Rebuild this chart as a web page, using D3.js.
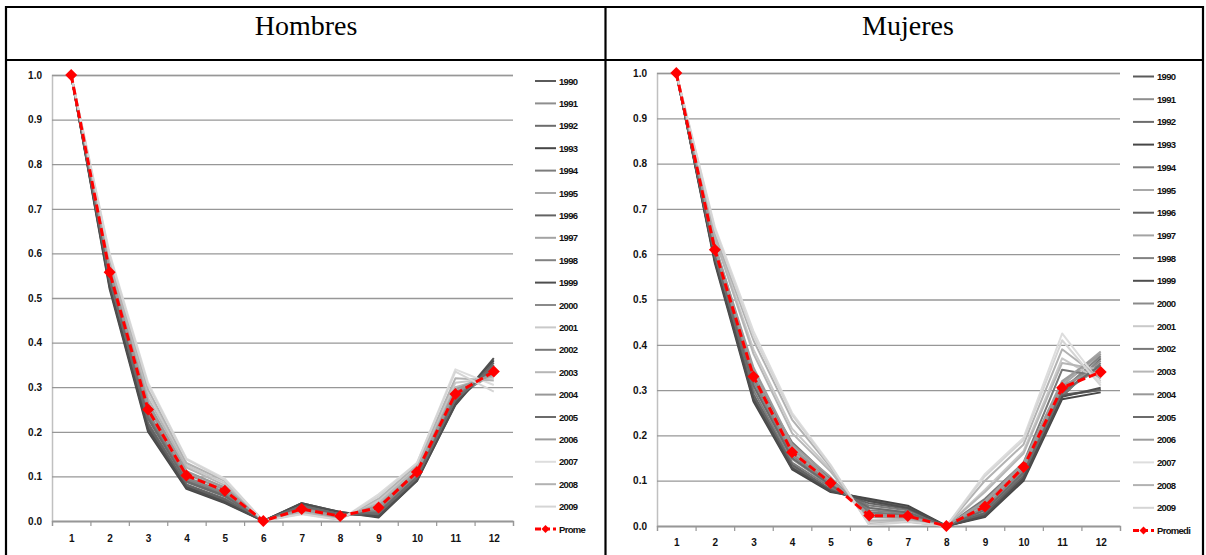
<!DOCTYPE html>
<html>
<head>
<meta charset="utf-8">
<style>
body { margin: 0; background: #fff; }
.tick text { font-family: "Liberation Sans", Arial, sans-serif; font-weight: bold; }
</style>
</head>
<body>
<svg id="chart" width="1206" height="555"></svg>
<script src="https://d3js.org/d3.v7.min.js"></script>
<script>

// years and edad groups (1..12)
const years = ["1990","1991","1992","1993","1994","1995","1996","1997","1998","1999",
               "2000","2001","2002","2003","2004","2005","2006","2007","2008","2009"];
const groups = [1,2,3,4,5,6,7,8,9,10,11,12];
const yTicks = [0,0.1,0.2,0.3,0.4,0.5,0.6,0.7,0.8,0.9,1.0];

// legend colours for each year (grays as in the excel chart)
const yearColors = ["#5a5a5a","#8e8e8e","#6c6c6c","#464646","#7c7c7c","#a8a8a8","#636363","#a3a3a3",
                    "#828282","#4e4e4e","#8a8a8a","#c9c9c9","#787878","#b6b6b6","#989898","#6b6b6b",
                    "#9c9c9c","#dddddd","#b2b2b2","#d5d5d5"];

// Hombres
const hombres = [
  [1,0.53,0.21,0.078,0.045,0,0.035,0.015,0.012,0.095,0.27,0.34],
  [1,0.55,0.24,0.092,0.06,0,0.03,0.012,0.02,0.10,0.28,0.33],
  [1,0.535,0.22,0.082,0.05,0,0.038,0.018,0.015,0.095,0.265,0.35],
  [1,0.52,0.20,0.072,0.04,0,0.04,0.02,0.008,0.09,0.26,0.36],
  [1,0.545,0.23,0.088,0.055,0,0.032,0.014,0.018,0.10,0.275,0.345],
  [1,0.565,0.26,0.105,0.07,0,0.028,0.01,0.025,0.105,0.285,0.33],
  [1,0.53,0.215,0.08,0.048,0,0.036,0.016,0.012,0.092,0.268,0.355],
  [1,0.57,0.265,0.11,0.075,0,0.025,0.008,0.03,0.11,0.29,0.325],
  [1,0.55,0.24,0.095,0.062,0,0.03,0.012,0.022,0.10,0.28,0.34],
  [1,0.525,0.205,0.075,0.042,0,0.04,0.02,0.01,0.09,0.262,0.365],
  [1,0.555,0.245,0.098,0.065,0,0.028,0.012,0.025,0.105,0.285,0.335],
  [1,0.58,0.285,0.125,0.085,0,0.02,0.005,0.045,0.12,0.31,0.32],
  [1,0.545,0.235,0.09,0.058,0,0.033,0.015,0.02,0.098,0.278,0.34],
  [1,0.575,0.275,0.12,0.08,0,0.022,0.006,0.04,0.118,0.30,0.325],
  [1,0.56,0.255,0.105,0.07,0,0.027,0.01,0.032,0.11,0.29,0.33],
  [1,0.54,0.23,0.088,0.056,0,0.034,0.015,0.018,0.098,0.272,0.345],
  [1,0.565,0.265,0.112,0.075,0,0.025,0.008,0.035,0.112,0.295,0.33],
  [1,0.60,0.31,0.14,0.095,0,0.015,0.002,0.06,0.13,0.34,0.305],
  [1,0.585,0.295,0.13,0.09,0,0.018,0.004,0.05,0.125,0.32,0.315],
  [1,0.595,0.305,0.138,0.092,0,0.016,0.003,0.055,0.13,0.335,0.29]
];
const hombresProm = [1.0,0.558,0.25,0.102,0.068,0.0,0.027,0.011,0.03,0.11,0.285,0.335];

// Mujeres
const mujeres = [
  [1,0.59,0.29,0.135,0.08,0.055,0.04,0,0.025,0.11,0.29,0.30],
  [1,0.60,0.31,0.148,0.088,0.04,0.03,0,0.035,0.12,0.295,0.35],
  [1,0.585,0.285,0.13,0.078,0.058,0.042,0,0.022,0.105,0.285,0.37],
  [1,0.58,0.275,0.125,0.075,0.06,0.045,0,0.02,0.10,0.28,0.295],
  [1,0.595,0.30,0.14,0.085,0.045,0.035,0,0.03,0.115,0.29,0.36],
  [1,0.615,0.335,0.165,0.098,0.025,0.022,0,0.045,0.13,0.31,0.38],
  [1,0.59,0.29,0.135,0.08,0.05,0.038,0,0.028,0.11,0.288,0.30],
  [1,0.62,0.345,0.175,0.102,0.02,0.018,0,0.05,0.135,0.315,0.385],
  [1,0.605,0.32,0.155,0.092,0.035,0.028,0,0.04,0.125,0.30,0.375],
  [1,0.585,0.28,0.128,0.077,0.055,0.04,0,0.022,0.105,0.285,0.305],
  [1,0.605,0.325,0.16,0.095,0.03,0.025,0,0.04,0.125,0.30,0.365],
  [1,0.64,0.39,0.215,0.125,0.01,0.012,0,0.08,0.165,0.37,0.32],
  [1,0.60,0.33,0.185,0.105,0.03,0.025,0,0.06,0.14,0.345,0.33],
  [1,0.635,0.38,0.205,0.12,0.012,0.014,0,0.075,0.16,0.36,0.345],
  [1,0.61,0.335,0.17,0.1,0.025,0.02,0,0.05,0.13,0.31,0.35],
  [1,0.595,0.31,0.15,0.09,0.04,0.03,0,0.035,0.118,0.295,0.355],
  [1,0.62,0.35,0.18,0.108,0.02,0.018,0,0.055,0.14,0.32,0.38],
  [1,0.66,0.43,0.25,0.135,0.002,0.008,0,0.115,0.195,0.425,0.315],
  [1,0.645,0.41,0.235,0.13,0.005,0.01,0,0.10,0.18,0.39,0.325],
  [1,0.655,0.42,0.245,0.133,0.003,0.01,0,0.11,0.19,0.41,0.31]
];
const mujeresProm = [1.0,0.61,0.33,0.163,0.095,0.023,0.022,0.0,0.043,0.13,0.305,0.34];

const svg = d3.select("#chart");

// table frame
const frame = svg.append("g").attr("stroke", "#000").attr("stroke-width", 2.2);
frame.append("line").attr("x1", 5).attr("x2", 1204).attr("y1", 7).attr("y2", 7);
frame.append("line").attr("x1", 5).attr("x2", 1204).attr("y1", 60).attr("y2", 60);
frame.append("line").attr("x1", 6).attr("x2", 6).attr("y1", 6).attr("y2", 560);
frame.append("line").attr("x1", 605.5).attr("x2", 605.5).attr("y1", 6).attr("y2", 560);
frame.append("line").attr("x1", 1203).attr("x2", 1203).attr("y1", 6).attr("y2", 560);

svg.append("text").attr("x", 306).attr("y", 35).attr("text-anchor", "middle")
   .style("font-family", "'Liberation Serif', 'Times New Roman', serif").style("font-size", "28px")
   .text("Hombres");
svg.append("text").attr("x", 908).attr("y", 35).attr("text-anchor", "middle")
   .style("font-family", "'Liberation Serif', 'Times New Roman', serif").style("font-size", "28px")
   .text("Mujeres");

function drawPanel(p) {
  let g = svg.append("g");
  let x = d3.scaleLinear().domain([0.5, 12.5]).range([p.left, p.right]);
  let y = d3.scaleLinear().domain([0, 1]).range([p.bottom, p.top]);

  // gridlines + y labels
  g.append("g")
    .attr("transform", "translate(" + p.left + ",0)")
    .call(d3.axisLeft(y).tickValues(yTicks).tickFormat(d3.format(".1f"))
          .tickSize(-(p.right - p.left)).tickPadding(10))
    .call(a => a.select(".domain").attr("stroke", "#c0c0c0").attr("stroke-width", 1.5))
    .call(a => a.selectAll(".tick line").attr("stroke", "#979797").attr("stroke-width", 1.3))
    .call(a => a.selectAll(".tick text").style("font-size", "10px").attr("fill", "#111"));

  // x axis: boundary ticks
  g.append("g")
    .attr("transform", "translate(0," + p.bottom + ")")
    .call(d3.axisBottom(x).tickValues(d3.range(0.5, 13, 1)).tickSize(5).tickFormat(""))
    .call(a => a.select(".domain").attr("stroke", "#979797").attr("stroke-width", 1.3))
    .call(a => a.selectAll(".tick line").attr("stroke", "#979797").attr("stroke-width", 1.2));
  // x labels
  g.append("g")
    .attr("transform", "translate(0," + p.bottom + ")")
    .call(d3.axisBottom(x).tickValues(groups).tickSize(0).tickPadding(p.xPad).tickFormat(d3.format("d")))
    .call(a => a.select(".domain").remove())
    .call(a => a.selectAll(".tick text").style("font-size", "10px").attr("fill", "#111"));

  let line = d3.line().x((d, i) => x(groups[i])).y(d => y(d));

  g.selectAll("path.year")
    .data(p.series)
    .join("path")
    .attr("class", "year")
    .attr("d", line)
    .attr("fill", "none")
    .attr("stroke", (d, i) => yearColors[i])
    .attr("stroke-width", 2)
    .attr("stroke-linejoin", "round");

  g.append("path")
    .datum(p.prom)
    .attr("d", line)
    .attr("fill", "none")
    .attr("stroke", "#ff0000")
    .attr("stroke-width", 3)
    .attr("stroke-dasharray", "8,4");

  g.selectAll("path.dia")
    .data(p.prom)
    .join("path")
    .attr("class", "dia")
    .attr("transform", (d, i) => "translate(" + x(groups[i]) + "," + y(d) + ")")
    .attr("d", "M0,-6L6,0L0,6L-6,0Z")
    .attr("fill", "#ff0000");

  // legend
  let leg = g.append("g");
  let items = years.concat([p.promLabel]);
  items.forEach((name, i) => {
    let ly = p.legTop + i * p.legStep;
    if (i < years.length) {
      leg.append("line").attr("x1", p.legX).attr("x2", p.legX + 21).attr("y1", ly).attr("y2", ly)
        .attr("stroke", yearColors[i]).attr("stroke-width", 2);
    } else {
      leg.append("line").attr("x1", p.legX).attr("x2", p.legX + 21).attr("y1", ly).attr("y2", ly)
        .attr("stroke", "#ff0000").attr("stroke-width", 3).attr("stroke-dasharray", "6,3");
      leg.append("path").attr("transform", "translate(" + (p.legX + 10.5) + "," + ly + ")")
        .attr("d", "M0,-4L4,0L0,4L-4,0Z").attr("fill", "#ff0000");
    }
    leg.append("text").attr("x", p.legX + 24).attr("y", ly + 3.5)
      .style("font-family", "'Liberation Sans', Arial, sans-serif").style("font-weight", "bold")
      .style("font-size", "9.5px").style("letter-spacing", "-0.7px").attr("fill", "#111")
      .text(name);
  });
}

drawPanel({series: hombres, prom: hombresProm, left: 52, right: 513, top: 75, bottom: 521,
           xPad: 14, legX: 535, legTop: 81, legStep: 22.4, promLabel: "Prome"});
drawPanel({series: mujeres, prom: mujeresProm, left: 657, right: 1120, top: 73, bottom: 526,
           xPad: 13, legX: 1133, legTop: 76.5, legStep: 22.7, promLabel: "Promedi"});

</script>
</body>
</html>
